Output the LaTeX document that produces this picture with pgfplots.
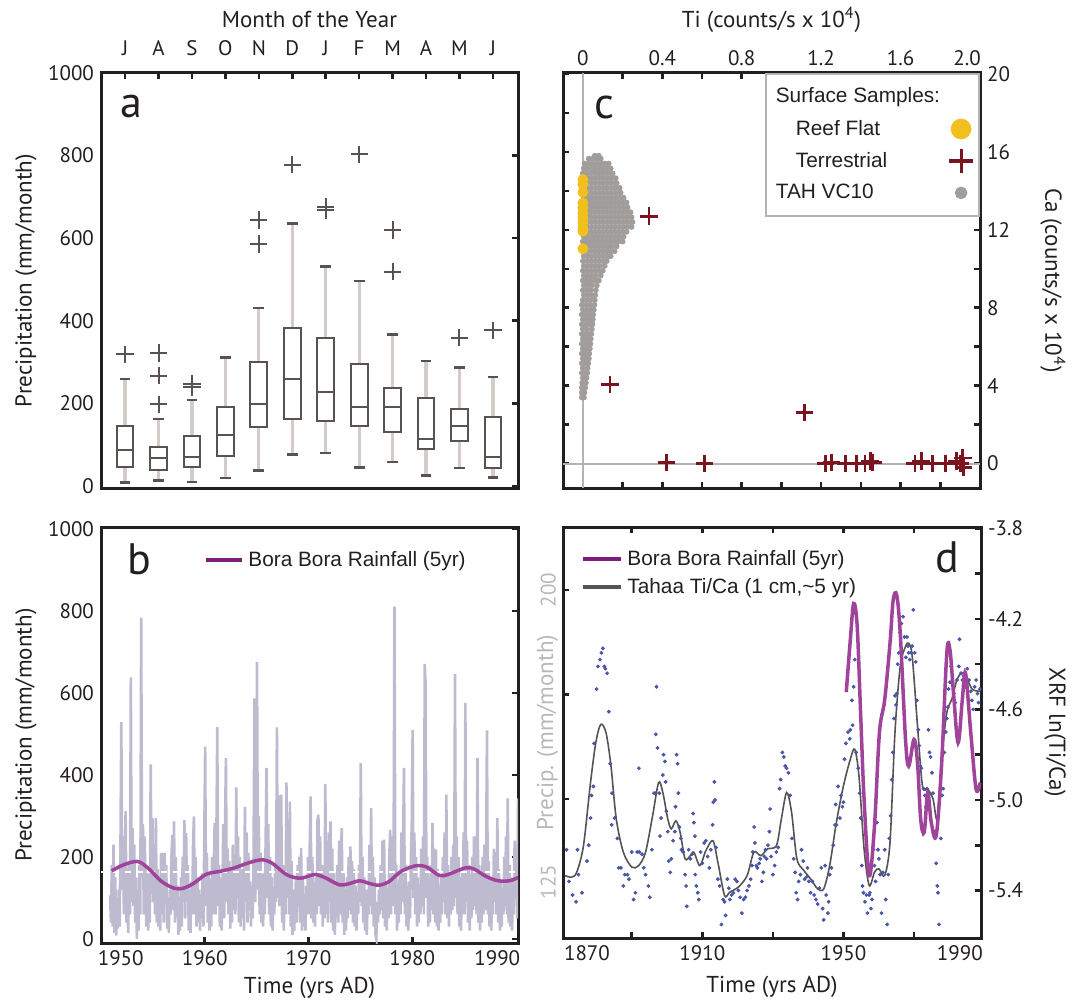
\documentclass[border=0pt]{standalone}
\usepackage{pgfplots}
\pgfplotsset{compat=1.18}
\usepgfplotslibrary{statistics}
\usepackage{pgfplotstable}
\usepackage{fontspec}
\setmainfont{PT Sans}
\newfontfamily\arialf{Liberation Sans}
\definecolor{axc}{HTML}{231F20}
\definecolor{boxc}{HTML}{595251}
\definecolor{whisk}{HTML}{D3CCC8}
\definecolor{lav}{HTML}{BEBBD0}
\definecolor{purp}{HTML}{A0439B}
\definecolor{legpurp}{HTML}{7D1E7D}
\definecolor{reef}{HTML}{F2C01E}
\definecolor{terr}{HTML}{7A1520}
\definecolor{tah}{HTML}{A09D9A}
\definecolor{zero}{HTML}{B3B3B3}
\definecolor{dotc}{HTML}{4B56A8}
\definecolor{tcurve}{HTML}{545454}
\definecolor{precg}{HTML}{B8B8B8}

\pgfplotsset{
  base/.style={
    scale only axis, anchor=south west,
    axis line style={axc, line width=1.5pt},
    tick style={axc, line width=1.3pt},
    major tick length=3pt, minor tick length=3pt,
    tick align=inside,
    /pgf/number format/assume math mode=true,
    /pgf/number format/1000 sep={},
    ticklabel style={font=\fontsize{10.5}{12}\selectfont, text=axc},
    label style={font=\fontsize{11.5}{13}\selectfont, text=axc},
  },
  mybox/.style={
    boxplot/draw direction=y,
    boxplot/box extend=0.5,
    boxplot/every box/.style={draw=boxc, line width=1pt},
    boxplot/every median/.style={draw=boxc, line width=1pt},
    mark=+, mark size=4.3pt, mark options={boxc, line width=1pt}, draw=boxc,
  },
  boxplot/draw/lower whisker/.code={%
    \draw[whisk, line width=1.6pt] (boxplot cs:\pgfplotsboxplotvalue{lower quartile}) -- (boxplot cs:\pgfplotsboxplotvalue{lower whisker});
    \draw[boxc, line width=1.2pt] (boxplot box cs:\pgfplotsboxplotvalue{lower whisker},0.18) -- (boxplot box cs:\pgfplotsboxplotvalue{lower whisker},0.82);
  },
  boxplot/draw/upper whisker/.code={%
    \draw[whisk, line width=1.6pt] (boxplot cs:\pgfplotsboxplotvalue{upper quartile}) -- (boxplot cs:\pgfplotsboxplotvalue{upper whisker});
    \draw[boxc, line width=1.2pt] (boxplot box cs:\pgfplotsboxplotvalue{upper whisker},0.18) -- (boxplot box cs:\pgfplotsboxplotvalue{upper whisker},0.82);
  },
}

% monthly Bora Bora rainfall, Nov 1950 onward
\pgfplotstableread[row sep=\\]{p\\
106\\ 40\\
180\\ 30\\ 230\\ 15\\ 150\\ 8\\ 60\\ 25\\ 120\\ 30\\ 220\\ 529\\
120\\ 250\\ 60\\ 200\\ 312\\ 40\\ 90\\ 15\\ 180\\ 60\\ 638\\ 90\\
270\\ 80\\ 230\\ 40\\ 150\\ 0\\ 120\\ 20\\ 180\\ 60\\ 784\\ 150\\
280\\ 60\\ 250\\ 130\\ 30\\ 160\\ 20\\ 90\\ 40\\ 426\\ 110\\ 295\\
90\\ 210\\ 60\\ 295\\ 40\\ 170\\ 30\\ 100\\ 20\\ 210\\ 60\\ 210\\
40\\ 210\\ 100\\ 180\\ 25\\ 90\\ 15\\ 120\\ 60\\ 200\\ 254\\ 70\\
287\\ 40\\ 200\\ 60\\ 130\\ 10\\ 80\\ 20\\ 150\\ 30\\ 200\\ 90\\
290\\ 50\\ 258\\ 100\\ 180\\ 20\\ 110\\ 15\\ 140\\ 60\\ 230\\ 299\\
60\\ 200\\ 30\\ 150\\ 40\\ 120\\ 20\\ 90\\ 50\\ 160\\ 30\\ 250\\
469\\ 80\\ 210\\ 40\\ 160\\ 20\\ 110\\ 30\\ 200\\ 60\\ 180\\ 283\\
60\\ 250\\ 517\\ 80\\ 180\\ 30\\ 150\\ 20\\ 120\\ 280\\ 50\\ 270\\
441\\ 90\\ 220\\ 60\\ 190\\ 25\\ 150\\ 40\\ 230\\ 70\\ 160\\ 60\\
370\\ 100\\ 250\\ 40\\ 200\\ 30\\ 170\\ 50\\ 140\\ 20\\ 322\\ 90\\
260\\ 40\\ 210\\ 70\\ 140\\ 30\\ 120\\ 50\\ 200\\ 587\\ 90\\ 250\\
676\\ 120\\ 300\\ 60\\ 210\\ 40\\ 160\\ 30\\ 150\\ 60\\ 250\\ 417\\
100\\ 280\\ 60\\ 200\\ 30\\ 150\\ 20\\ 110\\ 60\\ 180\\ 90\\ 516\\
100\\ 350\\ 80\\ 230\\ 352\\ 40\\ 180\\ 20\\ 140\\ 60\\ 382\\ 100\\
220\\ 60\\ 335\\ 30\\ 190\\ 10\\ 120\\ 20\\ 80\\ 150\\ 40\\ 180\\
90\\ 200\\ 40\\ 222\\ 20\\ 150\\ 30\\ 110\\ 20\\ 130\\ 60\\ 200\\
60\\ 230\\ 348\\ 50\\ 200\\ 40\\ 130\\ 30\\ 150\\ 60\\ 290\\ 303\\
80\\ 250\\ 60\\ 180\\ 30\\ 140\\ 50\\ 378\\ 60\\ 200\\ 40\\ 260\\
90\\ 287\\ 40\\ 220\\ 20\\ 160\\ 10\\ 110\\ 60\\ 180\\ 40\\ 240\\
60\\ 200\\ 270\\ 40\\ 160\\ 10\\ 120\\ 20\\ 150\\ 50\\ 200\\ 70\\
226\\ 60\\ 190\\ 40\\ 170\\ 30\\ 130\\ 20\\ 110\\ 60\\ 180\\ 90\\
429\\ 80\\ 200\\ 40\\ 150\\ 20\\ 120\\ 10\\ 100\\ 60\\ 230\\ 80\\
319\\ 60\\ 200\\ 30\\ 150\\ 10\\ 0\\ 90\\ 40\\ 120\\ 60\\ 180\\
70\\ 240\\ 50\\ 242\\ 30\\ 140\\ 20\\ 100\\ 50\\ 200\\ 266\\ 60\\
250\\ 80\\ 200\\ 811\\ 60\\ 180\\ 20\\ 120\\ 40\\ 160\\ 60\\ 260\\
90\\ 240\\ 417\\ 60\\ 180\\ 30\\ 130\\ 20\\ 140\\ 50\\ 200\\ 280\\
510\\ 100\\ 260\\ 60\\ 200\\ 30\\ 150\\ 40\\ 130\\ 60\\ 220\\ 80\\
250\\ 60\\ 671\\ 621\\ 100\\ 200\\ 30\\ 150\\ 40\\ 180\\ 70\\ 283\\
60\\ 220\\ 40\\ 218\\ 30\\ 170\\ 20\\ 130\\ 40\\ 150\\ 60\\ 200\\
90\\ 260\\ 60\\ 352\\ 50\\ 180\\ 30\\ 140\\ 60\\ 200\\ 70\\ 230\\
80\\ 646\\ 100\\ 250\\ 60\\ 200\\ 30\\ 150\\ 20\\ 170\\ 60\\ 260\\
60\\ 576\\ 90\\ 240\\ 40\\ 180\\ 20\\ 140\\ 50\\ 200\\ 70\\ 250\\
80\\ 230\\ 60\\ 441\\ 40\\ 180\\ 20\\ 160\\ 40\\ 200\\ 60\\ 230\\
70\\ 200\\ 509\\ 60\\ 190\\ 30\\ 150\\ 20\\ 140\\ 60\\ 220\\ 90\\
210\\ 60\\ 295\\ 40\\ 170\\ 20\\ 140\\ 30\\ 120\\ 60\\ 200\\ 80\\
250\\ 60\\ 343\\ 40\\ 180\\ 30\\ 150\\ 20\\ 130\\ 60\\ 240\\ 100\\
200\\ 50\\ 343\\
}\rain

\begin{document}
\begin{tikzpicture}
\useasboundingbox (0,0) rectangle (539.5pt,501pt);

%================ a
\begin{axis}[base, at={(50.5pt,257pt)}, width=208.5pt, height=207.5pt,
  xmin=-0.72, xmax=11.75, ymin=-5, ymax=1000,
  xtick={0,...,11}, xticklabels={J,A,S,O,N,D,J,F,M,A,M,J},
  xtick pos=upper, xticklabel pos=upper,
  xticklabel style={yshift=5pt},
  ytick={0,200,...,1000}, ytick pos=right, yticklabel pos=left,
  xlabel={Month of the Year},
  xlabel style={at={(axis description cs:0.5,1.128)}, anchor=center},
  ylabel={Precipitation (mm/month)},
  ylabel style={at={(axis description cs:-0.18,0.5)}, anchor=center},
]
\addplot[mybox, boxplot prepared={draw position=0, lower whisker=8, lower quartile=46, median=86, upper quartile=144, upper whisker=259}] table[row sep=\\,y index=0] {data\\ 319\\};
\addplot[mybox, boxplot prepared={draw position=1, lower whisker=13, lower quartile=38, median=67, upper quartile=94, upper whisker=162}] table[row sep=\\,y index=0] {data\\ 322\\ 267\\ 198\\};
\addplot[mybox, boxplot prepared={draw position=2, lower whisker=10, lower quartile=46, median=69, upper quartile=120, upper whisker=208}] table[row sep=\\,y index=0] {data\\ 248\\ 239\\};
\addplot[mybox, boxplot prepared={draw position=3, lower whisker=19, lower quartile=73, median=124, upper quartile=190, upper whisker=311}] coordinates {};
\addplot[mybox, boxplot prepared={draw position=4, lower whisker=37, lower quartile=142, median=199, upper quartile=299, upper whisker=431}] table[row sep=\\,y index=0] {data\\ 644\\ 586\\};
\addplot[mybox, boxplot prepared={draw position=5, lower whisker=76, lower quartile=162, median=260, upper quartile=383, upper whisker=636}] table[row sep=\\,y index=0] {data\\ 778\\};
\addplot[mybox, boxplot prepared={draw position=6, lower whisker=80, lower quartile=158, median=228, upper quartile=358, upper whisker=531}] table[row sep=\\,y index=0] {data\\ 676\\ 668\\};
\addplot[mybox, boxplot prepared={draw position=7, lower whisker=45, lower quartile=146, median=190, upper quartile=296, upper whisker=496}] table[row sep=\\,y index=0] {data\\ 803\\};
\addplot[mybox, boxplot prepared={draw position=8, lower whisker=58, lower quartile=130, median=190, upper quartile=237, upper whisker=367}] table[row sep=\\,y index=0] {data\\ 620\\ 519\\};
\addplot[mybox, boxplot prepared={draw position=9, lower whisker=25, lower quartile=89, median=114, upper quartile=212, upper whisker=302}] coordinates {};
\addplot[mybox, boxplot prepared={draw position=10, lower whisker=44, lower quartile=110, median=145, upper quartile=186, upper whisker=287}] table[row sep=\\,y index=0] {data\\ 359\\};
\addplot[mybox, boxplot prepared={draw position=11, lower whisker=20, lower quartile=44, median=70, upper quartile=168, upper whisker=264}] table[row sep=\\,y index=0] {data\\ 377\\};
\node[font=\fontsize{22}{22}\selectfont, text=axc] at (rel axis cs:0.074,0.92) {a};
\end{axis}

%================ b
\begin{axis}[base, at={(50.5pt,29.5pt)}, width=208.5pt, height=208pt,
  xmin=1950, xmax=1990.2, ymin=-10, ymax=1005,
  xtick={1960,1970,1980}, extra x ticks={1951.9,1988.2}, extra x tick labels={1950,1990},
  extra x tick style={major tick length=0pt},
  xtick pos=lower, xticklabel pos=lower,
  ytick={0,200,...,1000}, ytick pos=right, yticklabel pos=left,
  xlabel={Time (yrs AD)},
  xlabel style={at={(axis description cs:0.5,-0.108)}, anchor=center},
  ylabel={Precipitation (mm/month)},
  ylabel style={at={(axis description cs:-0.18,0.5)}, anchor=center},
  legend style={at={(axis description cs:0.247,0.952)}, anchor=north west, draw=none, fill=none, inner sep=0pt,
    font=\arialf\fontsize{10.4}{12}\selectfont, text=axc},
  legend image code/.code={\draw[#1] (0pt,0pt) -- (18pt,0pt);},
]
\addplot[lav, line width=1.3pt, forget plot] table[x expr=1950.875+\coordindex/12, y=p] {\rain};
\addplot[white, dashed, line width=0.9pt, forget plot] coordinates {(1950,163) (1990.2,163)};
\addplot[purp, line width=1.75pt, smooth, forget plot] coordinates {
(1951.03,166) (1952.19,181) (1953.52,189) (1954.52,173) (1955.85,140) (1957.01,124)
(1957.84,123) (1958.84,134) (1960.17,158) (1961.50,165) (1962.82,173) (1964.15,185)
(1965.48,193) (1966.48,185) (1967.81,158) (1968.80,149) (1969.47,149) (1970.63,157)
(1971.63,149) (1972.96,132) (1973.79,134) (1974.95,142) (1975.78,136) (1976.78,131)
(1977.77,140) (1978.94,165) (1980.43,179) (1981.43,175) (1982.59,155) (1983.42,157)
(1985.08,173) (1985.91,171) (1987.08,153) (1988.24,142) (1989.40,142) (1990.23,150)};
\addlegendimage{legpurp, line width=2pt}
\addlegendentry{Bora Bora Rainfall (5yr)}
\node[font=\fontsize{22}{22}\selectfont, text=axc] at (rel axis cs:0.091,0.923) {b};
\end{axis}

%================ c
\begin{axis}[base, at={(281.5pt,257pt)}, width=208.5pt, height=207.5pt,
  xmin=-0.1, xmax=2.0, ymin=-1.25, ymax=20.05,
  xtick={0,0.4,0.8,1.2,1.6,2.0}, xticklabels={0,0.4,0.8,1.2,1.6,},
  minor xtick={0.2,0.6,1.0,1.4,1.8},
  extra x ticks={1.935}, extra x tick labels={2.0}, extra x tick style={major tick length=0pt},
  xtick pos=both, xticklabel pos=upper,
  ytick={0,4,8,12,16,20}, minor ytick={2,6,10,14,18},
  ytick pos=both, yticklabel pos=right,
  xlabel={Ti (counts/s x 10\textsuperscript{4})},
  xlabel style={at={(axis description cs:0.5,1.128)}, anchor=center},
  ylabel={Ca (counts/s x 10\textsuperscript{4})},
  ylabel style={at={(axis description cs:1.175,0.5)}, anchor=center, rotate=180},
  legend plot pos=right, legend cell align=left,
  legend style={at={(axis description cs:1,1)}, anchor=north east, draw=zero, line width=0.9pt, fill=white,
    font=\arialf\fontsize{10.4}{12}\selectfont, text=axc, inner xsep=3pt, inner ysep=5pt, row sep=3pt},
]
\addlegendimage{empty legend}\addlegendentry{Surface Samples:}
\addlegendimage{only marks, mark=*, mark size=4.7pt, color=reef}\addlegendentry{\hspace*{10pt}Reef Flat}
\addlegendimage{only marks, mark=+, mark size=6pt, color=terr, mark options={line width=1.6pt}}\addlegendentry{\hspace*{10pt}Terrestrial}
\addlegendimage{only marks, mark=*, mark size=2.7pt, color=tah}\addlegendentry{TAH VC10}
\addplot[zero, line width=1pt, forget plot] coordinates {(0,-1.25) (0,20.05)};
\addplot[zero, line width=1pt, forget plot] coordinates {(-0.1,0) (2.0,0)};
\addplot[only marks, mark=*, mark size=1.25pt, color=tah, forget plot] coordinates {
(-0.005,3.4)(0.005,3.4)(-0.005,3.65)(0.008,3.65)(-0.005,3.9)(0.012,3.9)(-0.003,4.15)(0.015,4.15)
(0,4.4)(0.018,4.4)(-0.005,4.65)(0.01,4.65)(0.022,4.65)(0,4.9)(0.024,4.9)
(-0.005,5.15)(0.012,5.15)(0.027,5.15)(0,5.4)(0.015,5.4)(0.03,5.4)
(-0.005,5.65)(0.012,5.65)(0.032,5.65)(0,5.9)(0.018,5.9)(0.035,5.9)
(-0.005,6.15)(0.012,6.15)(0.03,6.15)(0.038,6.15)(0,6.4)(0.02,6.4)(0.04,6.4)
(-0.005,6.65)(0.012,6.65)(0.03,6.65)(0.042,6.65)(0,6.9)(0.02,6.9)(0.045,6.9)
(-0.005,7.15)(0.015,7.15)(0.035,7.15)(0.048,7.15)(0,7.4)(0.02,7.4)(0.04,7.4)(0.05,7.4)
(-0.005,7.65)(0.015,7.65)(0.035,7.65)(0.052,7.65)(0,7.9)(0.02,7.9)(0.04,7.9)(0.055,7.9)
(-0.005,8.15)(0.015,8.15)(0.035,8.15)(0.058,8.15)(0,8.4)(0.02,8.4)(0.04,8.4)(0.06,8.4)
(0.005,8.65)(0.025,8.65)(0.045,8.65)(0.062,8.65)(0,8.9)(0.02,8.9)(0.04,8.9)(0.065,8.9)
(0.005,9.15)(0.025,9.15)(0.045,9.15)(0.07,9.15)(0,9.4)(0.02,9.4)(0.04,9.4)(0.06,9.4)(0.08,9.4)
(0.005,9.65)(0.025,9.65)(0.045,9.65)(0.065,9.65)(0.09,9.65)
(0,9.9)(0.02,9.9)(0.04,9.9)(0.06,9.9)(0.08,9.9)(0.1,9.9)
(0.005,10.15)(0.025,10.15)(0.045,10.15)(0.065,10.15)(0.085,10.15)(0.11,10.15)
(0,10.4)(0.02,10.4)(0.04,10.4)(0.06,10.4)(0.08,10.4)(0.1,10.4)(0.12,10.4)
(0.005,10.65)(0.025,10.65)(0.045,10.65)(0.065,10.65)(0.085,10.65)(0.105,10.65)(0.125,10.65)(0.14,10.65)
(0,10.9)(0.02,10.9)(0.04,10.9)(0.06,10.9)(0.08,10.9)(0.1,10.9)(0.12,10.9)(0.14,10.9)(0.16,10.9)
(0.005,11.15)(0.025,11.15)(0.045,11.15)(0.065,11.15)(0.085,11.15)(0.105,11.15)(0.125,11.15)(0.145,11.15)(0.17,11.15)
(0,11.4)(0.02,11.4)(0.04,11.4)(0.06,11.4)(0.08,11.4)(0.1,11.4)(0.12,11.4)(0.14,11.4)(0.16,11.4)(0.18,11.4)(0.2,11.4)
(0.005,11.65)(0.025,11.65)(0.045,11.65)(0.065,11.65)(0.085,11.65)(0.105,11.65)(0.125,11.65)(0.145,11.65)(0.165,11.65)(0.185,11.65)(0.205,11.65)
(0,11.9)(0.02,11.9)(0.04,11.9)(0.06,11.9)(0.08,11.9)(0.1,11.9)(0.12,11.9)(0.14,11.9)(0.16,11.9)(0.18,11.9)(0.2,11.9)(0.22,11.9)
(0.005,12.15)(0.025,12.15)(0.045,12.15)(0.065,12.15)(0.085,12.15)(0.105,12.15)(0.125,12.15)(0.145,12.15)(0.165,12.15)(0.185,12.15)(0.205,12.15)(0.225,12.15)(0.245,12.15)
(0,12.4)(0.02,12.4)(0.04,12.4)(0.06,12.4)(0.08,12.4)(0.1,12.4)(0.12,12.4)(0.14,12.4)(0.16,12.4)(0.18,12.4)(0.2,12.4)(0.22,12.4)(0.24,12.4)(0.25,12.4)
(0.005,12.65)(0.025,12.65)(0.045,12.65)(0.065,12.65)(0.085,12.65)(0.105,12.65)(0.125,12.65)(0.145,12.65)(0.165,12.65)(0.185,12.65)(0.205,12.65)(0.225,12.65)(0.245,12.65)
(0,12.9)(0.02,12.9)(0.04,12.9)(0.06,12.9)(0.08,12.9)(0.1,12.9)(0.12,12.9)(0.14,12.9)(0.16,12.9)(0.18,12.9)(0.2,12.9)(0.22,12.9)(0.24,12.9)
(0.005,13.15)(0.025,13.15)(0.045,13.15)(0.065,13.15)(0.085,13.15)(0.105,13.15)(0.125,13.15)(0.145,13.15)(0.165,13.15)(0.185,13.15)(0.205,13.15)(0.225,13.15)
(0,13.4)(0.02,13.4)(0.04,13.4)(0.06,13.4)(0.08,13.4)(0.1,13.4)(0.12,13.4)(0.14,13.4)(0.16,13.4)(0.18,13.4)(0.2,13.4)(0.22,13.4)
(0.005,13.65)(0.025,13.65)(0.045,13.65)(0.065,13.65)(0.085,13.65)(0.105,13.65)(0.125,13.65)(0.145,13.65)(0.165,13.65)(0.185,13.65)(0.205,13.65)
(0,13.9)(0.02,13.9)(0.04,13.9)(0.06,13.9)(0.08,13.9)(0.1,13.9)(0.12,13.9)(0.14,13.9)(0.16,13.9)(0.18,13.9)(0.19,13.9)
(0.005,14.15)(0.025,14.15)(0.045,14.15)(0.065,14.15)(0.085,14.15)(0.105,14.15)(0.125,14.15)(0.145,14.15)(0.165,14.15)(0.185,14.15)
(0,14.4)(0.02,14.4)(0.04,14.4)(0.06,14.4)(0.08,14.4)(0.1,14.4)(0.12,14.4)(0.14,14.4)(0.16,14.4)(0.17,14.4)
(0.005,14.65)(0.025,14.65)(0.045,14.65)(0.065,14.65)(0.085,14.65)(0.105,14.65)(0.125,14.65)(0.145,14.65)(0.165,14.65)
(0,14.9)(0.02,14.9)(0.04,14.9)(0.06,14.9)(0.08,14.9)(0.1,14.9)(0.12,14.9)(0.14,14.9)(0.15,14.9)
(0.005,15.15)(0.025,15.15)(0.045,15.15)(0.065,15.15)(0.085,15.15)(0.105,15.15)(0.125,15.15)(0.14,15.15)
(0.01,15.4)(0.03,15.4)(0.05,15.4)(0.07,15.4)(0.09,15.4)(0.11,15.4)(0.13,15.4)
(0.03,15.65)(0.05,15.65)(0.07,15.65)(0.09,15.65)(0.06,15.8)(0.08,15.8)};
\addplot[only marks, mark=*, mark size=2.5pt, color=reef, forget plot] coordinates {
(0,14.58)(0,14.33)(0,13.93)(0,13.38)(0,13.13)(0,12.87)(0,12.62)(0,12.36)(0,12.1)(0,11.93)(0,11.03)};
\addplot[only marks, mark=+, mark size=4.4pt, color=terr, mark options={line width=1.3pt}, forget plot] coordinates {
(0.334,12.70)(0.137,4.07)(1.116,2.62)(0.421,0.05)(0.612,0)(1.221,0)(1.252,0.05)(1.322,0)(1.377,0)(1.42,0)
(1.447,0.14)(1.46,0.05)(1.673,0)(1.704,0.14)(1.76,0)(1.826,0)(1.882,0.14)(1.902,0)(1.913,0.3)(1.916,-0.2)};
\node[font=\fontsize{22}{22}\selectfont, text=axc] at (rel axis cs:0.10,0.916) {c};
\end{axis}

%================ d (right axis: XRF)
\begin{axis}[base, at={(281.5pt,32pt)}, width=209pt, height=205.5pt,
  xmin=1870.5, xmax=1989, ymin=-5.61, ymax=-3.794,
  xtick={1890,1910,1930,1950,1970}, xticklabels={,1910,,1950,},
  extra x ticks={1877.3,1983}, extra x tick labels={1870,1990}, extra x tick style={major tick length=0pt},
  xtick pos=both, xticklabel pos=lower,
  ytick={-5.4,-5.0,-4.6,-4.2,-3.8}, yticklabels={-5.4,-5.0,-4.6,-4.2,-3.8},
  minor ytick={-5.2,-4.8,-4.4,-4.0},
  ytick pos=right, yticklabel pos=right,
  xlabel={Time (yrs AD)},
  xlabel style={at={(axis description cs:0.5,-0.119)}, anchor=center},
  ylabel={XRF ln(Ti/Ca)},
  ylabel style={at={(axis description cs:1.177,0.5)}, anchor=center, rotate=180},
  legend style={at={(axis description cs:0.043,0.954)}, anchor=north west, draw=none, fill=none, inner sep=0pt,
    font=\arialf\fontsize{10.4}{12}\selectfont, text=axc, row sep=1pt},
  legend cell align=left,
  legend image code/.code={\draw[#1] (0pt,0pt) -- (19pt,0pt);},
]
\addlegendimage{legpurp, line width=2pt}\addlegendentry{Bora Bora Rainfall (5yr)}
\addlegendimage{tcurve, line width=2pt}\addlegendentry{Tahaa Ti/Ca (1 cm,\textasciitilde 5 yr)}
\addplot[only marks, mark=*, mark size=0.75pt, color=dotc, forget plot] coordinates {
(1871.5,-5.22)(1872.2,-5.36)(1873.2,-5.42)(1874.2,-5.45)(1874.9,-5.33)(1875.9,-5.41)(1874.6,-5.22)
(1877.3,-5.27)(1877.8,-5.20)(1878.3,-5.08)(1878.6,-4.98)(1879.1,-4.94)(1879.3,-4.75)(1880.0,-4.51)
(1880.4,-4.41)(1881.0,-4.38)(1881.4,-4.35)(1881.8,-4.33)(1882.2,-4.41)(1882.5,-4.42)(1883.0,-4.44)
(1883.5,-4.61)(1883.9,-4.84)(1884.4,-4.97)(1884.3,-5.11)(1885.1,-5.08)(1885.9,-5.17)(1886.3,-5.30)
(1886.9,-5.30)(1887.6,-5.38)(1888.0,-5.33)(1888.8,-5.33)(1889.2,-5.35)(1890.0,-5.23)(1890.5,-5.44)
(1891.0,-5.41)(1891.5,-5.23)(1892.1,-5.23)(1892.0,-4.86)(1892.9,-5.24)(1893.4,-5.30)(1893.9,-5.33)
(1894.7,-5.38)(1895.1,-5.43)(1895.7,-5.22)(1896.3,-4.97)(1896.8,-4.97)(1897.0,-4.50)(1896.8,-4.71)
(1897.3,-4.77)(1897.8,-4.97)(1898.0,-5.16)(1898.3,-5.08)(1898.8,-4.89)(1899.0,-4.80)(1899.4,-4.83)
(1899.6,-4.92)(1899.8,-5.05)(1900.2,-5.14)(1900.5,-5.27)(1900.9,-5.32)(1901.2,-5.26)(1901.7,-5.18)
(1902.2,-5.14)(1902.4,-5.03)(1902.7,-4.80)(1903.0,-4.84)(1903.2,-4.97)(1903.5,-5.12)(1903.9,-5.17)
(1904.1,-5.22)(1904.6,-5.23)(1905.1,-5.33)(1905.4,-5.38)(1905.6,-5.47)(1906.1,-5.22)(1906.6,-5.26)
(1907.1,-5.24)(1907.4,-5.06)(1907.6,-5.10)(1907.9,-5.16)(1908.0,-5.33)(1908.3,-5.38)(1908.7,-5.41)
(1909.0,-5.44)(1909.5,-5.23)(1910.0,-5.28)(1910.5,-5.19)(1911.0,-5.18)(1911.5,-5.25)(1912.0,-5.30)
(1912.4,-5.22)(1912.9,-5.11)(1913.1,-5.01)(1913.4,-4.92)(1913.6,-5.00)(1913.9,-5.21)(1914.4,-5.35)
(1914.9,-5.38)(1915.4,-5.55)(1915.9,-5.44)(1916.3,-5.45)(1916.6,-5.51)(1917.1,-5.35)(1917.5,-5.39)
(1917.8,-5.44)(1918.3,-5.42)(1918.8,-5.41)(1919.3,-5.35)(1919.8,-5.36)(1920.2,-5.40)(1920.7,-5.43)
(1921.2,-5.50)(1921.7,-5.44)(1922.2,-5.43)(1922.7,-5.40)(1923.2,-5.38)(1923.7,-5.35)(1924.1,-5.29)
(1924.3,-5.23)(1924.7,-5.12)(1924.9,-5.19)(1925.3,-5.29)(1925.6,-5.30)(1926.1,-5.28)(1926.4,-5.26)
(1926.9,-5.36)(1927.3,-5.32)(1927.6,-5.25)(1927.9,-5.22)(1928.2,-5.26)(1928.6,-5.20)(1929.0,-5.14)
(1929.2,-5.04)(1929.5,-5.25)(1930.0,-5.33)(1930.5,-5.29)(1931.0,-5.23)(1931.5,-5.21)(1931.9,-4.95)
(1932.2,-4.91)(1932.7,-4.79)(1933.1,-4.81)(1933.5,-4.85)(1933.9,-4.86)(1934.4,-4.88)(1934.9,-4.98)
(1935.4,-5.17)(1935.9,-5.26)(1936.3,-5.32)(1936.6,-5.41)(1937.0,-5.44)(1937.3,-5.36)(1937.8,-5.33)
(1938.1,-5.22)(1938.6,-5.27)(1939.0,-5.35)(1939.6,-5.34)(1939.8,-5.30)(1940.2,-5.36)(1940.7,-5.41)
(1941.2,-5.36)(1941.7,-5.42)(1942.2,-5.44)(1942.7,-5.46)(1943.2,-5.39)(1943.7,-5.30)(1944.1,-5.48)
(1944.4,-5.53)(1944.8,-5.29)(1945.1,-5.42)(1945.6,-5.50)(1945.8,-5.45)(1946.1,-5.33)(1946.6,-5.30)
(1947.1,-5.20)(1947.6,-5.11)(1947.8,-5.02)(1948.0,-5.11)(1948.5,-4.94)(1949.0,-5.08)(1949.3,-4.98)
(1949.7,-5.03)(1950.0,-5.01)(1950.3,-4.82)(1950.7,-4.75)(1951.3,-4.70)(1951.8,-4.73)(1951.95,-4.69)
(1952.4,-4.56)(1952.6,-4.67)(1952.9,-4.50)(1953.2,-4.38)(1953.6,-4.79)(1954.2,-4.86)(1954.6,-4.97)
(1954.9,-5.08)(1955.2,-5.29)(1955.4,-5.38)(1955.7,-5.41)(1956.1,-5.45)(1956.5,-5.42)(1956.8,-5.50)
(1957.3,-5.42)(1957.5,-5.41)(1957.8,-5.48)(1958.1,-5.44)(1958.5,-5.22)(1958.8,-5.29)(1959.1,-5.36)
(1959.5,-5.10)(1959.8,-5.22)(1960.05,-5.26)(1960.4,-5.33)(1960.8,-5.50)(1961.2,-5.32)(1961.7,-5.22)
(1962.0,-5.44)(1962.4,-5.55)(1962.7,-5.33)(1963.0,-5.17)(1963.4,-5.07)(1963.7,-4.91)(1964.0,-4.79)
(1964.3,-4.64)(1964.6,-4.54)(1964.9,-4.58)(1965.1,-4.53)(1965.4,-4.40)(1965.7,-4.35)(1966.0,-4.26)
(1966.4,-4.22)(1966.9,-4.19)(1967.3,-4.28)(1967.7,-4.37)(1968.0,-4.28)(1968.3,-4.32)(1968.5,-4.35)
(1968.8,-4.38)(1969.2,-4.35)(1969.5,-4.32)(1969.8,-4.16)(1970.2,-4.35)(1970.5,-4.39)(1970.8,-4.56)
(1971.2,-4.69)(1971.5,-4.76)(1971.8,-4.85)(1972.1,-4.86)(1972.7,-4.95)(1973.1,-4.98)(1973.4,-5.03)
(1973.7,-4.95)(1974.1,-4.69)(1974.4,-4.79)(1974.7,-4.81)(1975.1,-4.88)(1975.4,-4.97)(1975.9,-5.14)
(1976.3,-5.28)(1976.6,-5.38)(1976.8,-5.41)(1977.1,-5.55)(1977.6,-5.17)(1978.0,-4.98)(1978.3,-4.95)
(1978.6,-4.79)(1979.0,-4.70)(1979.3,-4.64)(1979.6,-4.59)(1979.8,-4.51)(1980.2,-4.48)(1980.5,-4.41)
(1980.9,-4.48)(1981.3,-4.53)(1981.7,-4.57)(1982.2,-4.47)(1982.7,-4.41)(1982.9,-4.29)(1983.3,-4.44)
(1983.7,-4.47)(1984.1,-4.45)(1984.6,-4.50)(1985.1,-4.42)(1985.6,-4.47)(1986.1,-4.52)(1986.4,-4.56)
(1986.8,-4.60)(1987.2,-4.50)(1987.6,-4.47)(1988.0,-4.53)(1988.3,-4.57)(1988.7,-4.51)};
\addplot[tcurve, line width=0.8pt, smooth, tension=0.5, forget plot] coordinates {
(1871.0,-5.334)(1872.9,-5.341)(1874.4,-5.319)(1876.3,-5.202)(1878.3,-4.923)(1879.8,-4.747)(1881.2,-4.666)
(1882.7,-4.703)(1884.1,-4.850)(1885.6,-5.084)(1887.6,-5.231)(1890.0,-5.297)(1891.95,-5.290)(1893.9,-5.231)
(1895.9,-5.070)(1897.6,-4.923)(1898.8,-4.967)(1900.2,-5.084)(1901.2,-5.128)(1902.5,-5.092)(1903.7,-5.143)
(1905.1,-5.260)(1906.6,-5.246)(1907.6,-5.231)(1909.3,-5.290)(1911.0,-5.224)(1913.0,-5.180)(1914.4,-5.275)
(1916.3,-5.422)(1917.8,-5.407)(1920.2,-5.385)(1922.7,-5.334)(1924.6,-5.231)(1926.6,-5.246)(1928.5,-5.216)
(1931.0,-5.202)(1932.4,-5.084)(1933.9,-4.967)(1935.3,-5.055)(1936.8,-5.260)(1938.8,-5.312)(1940.7,-5.349)
(1942.7,-5.393)(1944.4,-5.393)(1946.1,-5.290)(1948.0,-5.099)(1950.0,-4.938)(1951.95,-4.820)(1953.2,-4.776)
(1954.4,-4.894)(1955.85,-5.216)(1957.3,-5.378)(1958.8,-5.319)(1960.05,-5.304)(1961.7,-5.334)(1963.2,-5.187)
(1964.6,-4.703)(1966.1,-4.410)(1967.6,-4.322)(1968.5,-4.307)(1969.5,-4.366)(1971.0,-4.674)(1972.4,-4.938)
(1973.9,-4.952)(1975.4,-4.996)(1976.6,-5.084)(1977.8,-4.820)(1979.3,-4.615)(1980.7,-4.556)(1982.2,-4.468)
(1983.7,-4.439)(1985.1,-4.468)(1986.6,-4.512)(1988.8,-4.520)};
\node[font=\fontsize{22}{22}\selectfont, text=axc] at (rel axis cs:0.919,0.927) {d};
\end{axis}

%================ d (left axis: precipitation)
\begin{axis}[base, at={(281.5pt,32pt)}, width=209pt, height=205.5pt,
  xmin=1870.5, xmax=1989, ymin=116.8, ymax=215.1,
  hide x axis, axis y line*=left,
  ytick={150,175,200}, yticklabels={,,200}, ytick pos=left,
  extra y ticks={130.2}, extra y tick labels={125}, extra y tick style={major tick length=0pt},
  yticklabel style={rotate=90, anchor=south, text=precg},
  ylabel={Precip. (mm/month)},
  ylabel style={at={(axis description cs:-0.037,0.5)}, anchor=center, text=precg},
]
\addplot[purp, line width=1.75pt, smooth, tension=0.55] coordinates {
(1950.8,175.6)(1951.95,188.1)(1952.9,196.8)(1953.9,191.3)(1954.9,169.8)(1955.85,150.0)(1957.3,131.7)
(1958.8,143.6)(1960.2,165.9)(1961.7,173.8)(1963.2,187.3)(1964.1,197.6)(1965.1,198.8)(1966.1,189.7)
(1967.6,164.3)(1968.5,157.9)(1970.0,164.3)(1971.0,158.7)(1971.9,145.2)(1972.9,142.1)(1973.9,151.6)
(1974.9,144.4)(1976.3,141.3)(1977.8,157.9)(1979.3,184.9)(1980.2,185.7)(1981.2,175.4)(1982.5,163.5)
(1983.7,173.8)(1984.6,180.2)(1986.1,165.9)(1987.6,152.4)(1988.8,154.0)};
\end{axis}
\end{tikzpicture}
\end{document}
